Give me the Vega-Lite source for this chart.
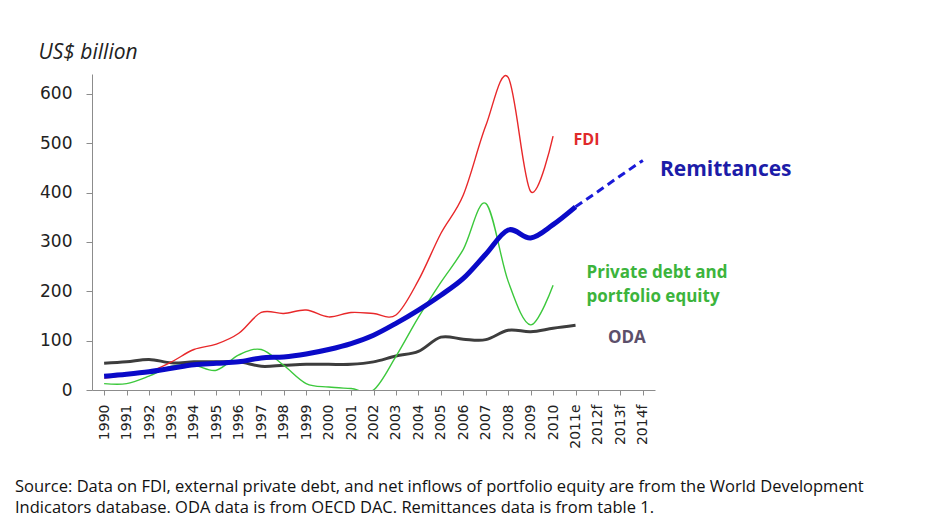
{
  "$schema": "https://vega.github.io/schema/vega-lite/v6.json",
  "width": 563,
  "height": 316,
  "autosize": {"type": "none"},
  "padding": {"left": 92, "top": 74, "right": 273, "bottom": 128},
  "background": "white",
  "config": {"view": {"stroke": null}, "font": "Open Sans"},
  "title": {
    "text": ["Source:  Data on FDI, external private debt, and net inflows of portfolio equity are from the World Development", "Indicators database. ODA data is from OECD DAC. Remittances data is from table 1."],
    "orient": "bottom",
    "anchor": "start",
    "frame": "group",
    "dx": -77,
    "offset": 31,
    "fontSize": 16.5,
    "fontWeight": "normal",
    "font": "Open Sans",
    "color": "#111111",
    "lineHeight": 21,
    "baseline": "top"
  },
  "datasets": {
    "series": [
      {"year": "1990", "series": "FDI", "value": 24},
      {"year": "1991", "series": "FDI", "value": 30},
      {"year": "1992", "series": "FDI", "value": 37},
      {"year": "1993", "series": "FDI", "value": 57},
      {"year": "1994", "series": "FDI", "value": 82},
      {"year": "1995", "series": "FDI", "value": 93},
      {"year": "1996", "series": "FDI", "value": 115},
      {"year": "1997", "series": "FDI", "value": 157},
      {"year": "1998", "series": "FDI", "value": 155},
      {"year": "1999", "series": "FDI", "value": 162},
      {"year": "2000", "series": "FDI", "value": 148},
      {"year": "2001", "series": "FDI", "value": 157},
      {"year": "2002", "series": "FDI", "value": 155},
      {"year": "2003", "series": "FDI", "value": 152},
      {"year": "2004", "series": "FDI", "value": 222},
      {"year": "2005", "series": "FDI", "value": 317},
      {"year": "2006", "series": "FDI", "value": 395},
      {"year": "2007", "series": "FDI", "value": 535},
      {"year": "2008", "series": "FDI", "value": 633},
      {"year": "2009", "series": "FDI", "value": 402},
      {"year": "2010", "series": "FDI", "value": 514},
      {"year": "1990", "series": "Private", "value": 13},
      {"year": "1991", "series": "Private", "value": 13},
      {"year": "1992", "series": "Private", "value": 28},
      {"year": "1993", "series": "Private", "value": 48},
      {"year": "1994", "series": "Private", "value": 50},
      {"year": "1995", "series": "Private", "value": 40},
      {"year": "1996", "series": "Private", "value": 71},
      {"year": "1997", "series": "Private", "value": 82},
      {"year": "1998", "series": "Private", "value": 50},
      {"year": "1999", "series": "Private", "value": 13},
      {"year": "2000", "series": "Private", "value": 6},
      {"year": "2001", "series": "Private", "value": 3},
      {"year": "2002", "series": "Private", "value": 0},
      {"year": "2003", "series": "Private", "value": 68},
      {"year": "2004", "series": "Private", "value": 147},
      {"year": "2005", "series": "Private", "value": 218},
      {"year": "2006", "series": "Private", "value": 285},
      {"year": "2007", "series": "Private", "value": 378},
      {"year": "2008", "series": "Private", "value": 220},
      {"year": "2009", "series": "Private", "value": 132},
      {"year": "2010", "series": "Private", "value": 212},
      {"year": "1990", "series": "ODA", "value": 54},
      {"year": "1991", "series": "ODA", "value": 57},
      {"year": "1992", "series": "ODA", "value": 62},
      {"year": "1993", "series": "ODA", "value": 55},
      {"year": "1994", "series": "ODA", "value": 57},
      {"year": "1995", "series": "ODA", "value": 57},
      {"year": "1996", "series": "ODA", "value": 57},
      {"year": "1997", "series": "ODA", "value": 48},
      {"year": "1998", "series": "ODA", "value": 50},
      {"year": "1999", "series": "ODA", "value": 52},
      {"year": "2000", "series": "ODA", "value": 52},
      {"year": "2001", "series": "ODA", "value": 52},
      {"year": "2002", "series": "ODA", "value": 57},
      {"year": "2003", "series": "ODA", "value": 69},
      {"year": "2004", "series": "ODA", "value": 78},
      {"year": "2005", "series": "ODA", "value": 107},
      {"year": "2006", "series": "ODA", "value": 103},
      {"year": "2007", "series": "ODA", "value": 102},
      {"year": "2008", "series": "ODA", "value": 121},
      {"year": "2009", "series": "ODA", "value": 118},
      {"year": "2010", "series": "ODA", "value": 125},
      {"year": "2011e", "series": "ODA", "value": 131},
      {"year": "1990", "series": "Remittances", "value": 28},
      {"year": "1991", "series": "Remittances", "value": 32},
      {"year": "1992", "series": "Remittances", "value": 37},
      {"year": "1993", "series": "Remittances", "value": 44},
      {"year": "1994", "series": "Remittances", "value": 51},
      {"year": "1995", "series": "Remittances", "value": 54},
      {"year": "1996", "series": "Remittances", "value": 57},
      {"year": "1997", "series": "Remittances", "value": 65},
      {"year": "1998", "series": "Remittances", "value": 67},
      {"year": "1999", "series": "Remittances", "value": 73},
      {"year": "2000", "series": "Remittances", "value": 82},
      {"year": "2001", "series": "Remittances", "value": 94},
      {"year": "2002", "series": "Remittances", "value": 111},
      {"year": "2003", "series": "Remittances", "value": 135},
      {"year": "2004", "series": "Remittances", "value": 162},
      {"year": "2005", "series": "Remittances", "value": 192},
      {"year": "2006", "series": "Remittances", "value": 226},
      {"year": "2007", "series": "Remittances", "value": 275},
      {"year": "2008", "series": "Remittances", "value": 324},
      {"year": "2009", "series": "Remittances", "value": 308},
      {"year": "2010", "series": "Remittances", "value": 335},
      {"year": "2011e", "series": "Remittances", "value": 371},
      {"year": "2011e", "series": "Remittances forecast", "value": 371},
      {"year": "2012f", "series": "Remittances forecast", "value": 402},
      {"year": "2013f", "series": "Remittances forecast", "value": 434},
      {"year": "2014f", "series": "Remittances forecast", "value": 465}
    ],
    "labels": [
      {"label": "FDI", "year": "2011e", "value": 506},
      {"label": "Remittances", "year": "2014f", "value": 446},
      {"label": "Private debt and", "year": "2011e", "value": 237},
      {"label": "portfolio equity", "year": "2011e", "value": 188},
      {"label": "ODA", "year": "2012f", "value": 105}
    ]
  },
  "encoding": {
    "x": {
      "field": "year",
      "type": "ordinal",
      "scale": {"type": "point", "padding": 0.54, "domain": ["1990","1991","1992","1993","1994","1995","1996","1997","1998","1999","2000","2001","2002","2003","2004","2005","2006","2007","2008","2009","2010","2011e","2012f","2013f","2014f"]},
      "axis": {
        "title": null,
        "labelAngle": 270,
        "labelFont": "DejaVu Sans",
        "labelFontSize": 14,
        "labelColor": "#222222",
        "labelPadding": 9,
        "tickSize": 5,
        "tickColor": "#8c8c8c",
        "domainColor": "#8c8c8c",
        "grid": false
      }
    },
    "y": {
      "field": "value",
      "type": "quantitative",
      "scale": {"domain": [0, 640], "nice": false},
      "axis": {
        "values": [0, 100, 200, 300, 400, 500, 600],
        "title": "US$ billion",
        "titleAngle": 0,
        "titleX": -54,
        "titleY": -16,
        "titleAlign": "left",
        "titleBaseline": "alphabetic",
        "titleFont": "Open Sans",
        "titleFontStyle": "italic",
        "titleFontWeight": "normal",
        "titleFontSize": 21,
        "titleColor": "#222222",
        "labelFont": "DejaVu Sans",
        "labelFontSize": 17,
        "labelColor": "#222222",
        "labelPadding": 14,
        "tickSize": 6,
        "tickColor": "#8c8c8c",
        "domainColor": "#8c8c8c",
        "grid": false
      }
    }
  },
  "layer": [
    {
      "data": {"name": "series"},
      "transform": [{"filter": "datum.series === 'ODA'"}],
      "mark": {"type": "line", "interpolate": "cardinal", "color": "#3d3d3d", "strokeWidth": 3}
    },
    {
      "data": {"name": "series"},
      "transform": [{"filter": "datum.series === 'Private'"}],
      "mark": {"type": "line", "interpolate": "cardinal", "color": "#3cc83c", "strokeWidth": 1.4, "clip": true}
    },
    {
      "data": {"name": "series"},
      "transform": [{"filter": "datum.series === 'FDI'"}],
      "mark": {"type": "line", "interpolate": "cardinal", "color": "#e8282a", "strokeWidth": 1.4}
    },
    {
      "data": {"name": "series"},
      "transform": [{"filter": "datum.series === 'Remittances'"}],
      "mark": {"type": "line", "interpolate": "cardinal", "color": "#0a0ac8", "strokeWidth": 5}
    },
    {
      "data": {"name": "series"},
      "transform": [{"filter": "datum.series === 'Remittances forecast'"}],
      "mark": {"type": "line", "interpolate": "linear", "color": "#1a1ad8", "strokeWidth": 3, "strokeDash": [8, 5]}
    },
    {
      "data": {"name": "labels"},
      "transform": [{"filter": "datum.label === 'FDI'"}],
      "mark": {"type": "text", "align": "left", "baseline": "middle", "dx": -2, "font": "Open Sans", "fontWeight": "bold", "fontSize": 16, "color": "#e02a2a"},
      "encoding": {"text": {"field": "label"}}
    },
    {
      "data": {"name": "labels"},
      "transform": [{"filter": "datum.label === 'Remittances'"}],
      "mark": {"type": "text", "align": "left", "baseline": "middle", "dx": 17, "font": "Open Sans", "fontWeight": "bold", "fontSize": 21, "color": "#1c1ca8"},
      "encoding": {"text": {"field": "label"}}
    },
    {
      "data": {"name": "labels"},
      "transform": [{"filter": "datum.label === 'Private debt and' || datum.label === 'portfolio equity'"}],
      "mark": {"type": "text", "align": "left", "baseline": "middle", "dx": 11, "font": "Open Sans", "fontWeight": "bold", "fontSize": 17, "color": "#3cb43c"},
      "encoding": {"text": {"field": "label"}}
    },
    {
      "data": {"name": "labels"},
      "transform": [{"filter": "datum.label === 'ODA'"}],
      "mark": {"type": "text", "align": "left", "baseline": "middle", "dx": 10, "font": "Open Sans", "fontWeight": "bold", "fontSize": 17, "color": "#5c4f6a"},
      "encoding": {"text": {"field": "label"}}
    }
  ]
}
